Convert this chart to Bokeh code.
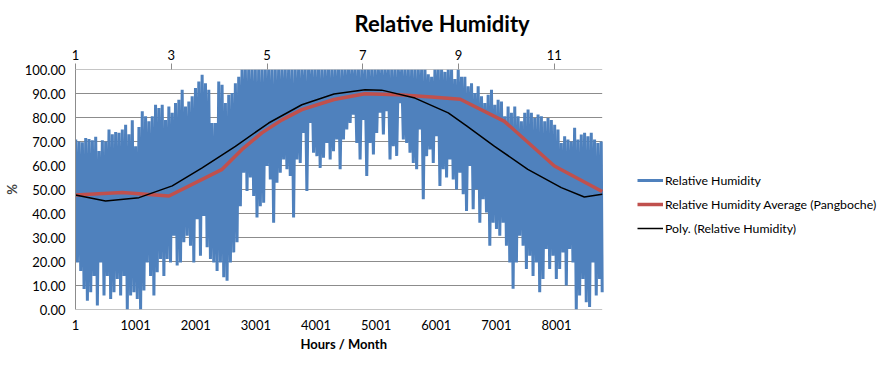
import numpy as np
from bokeh.plotting import figure
from bokeh.models import (Range1d, LinearAxis, FixedTicker, NumeralTickFormatter,
                          Legend, LegendItem, Title)
from bokeh.embed import file_html
from bokeh.resources import INLINE

# ---------------- data ----------------
# Hourly relative humidity, summarised as the upper and lower envelope of the
# hourly trace, read every ~55 hours from hour 5 to hour 8744.
rh_upper = [
    70.8, 70, 69.7, 71.5, 71, 70.5, 72, 66, 70.5, 70, 75, 73, 74, 73.6, 75, 77, 73, 78.8, 68, 76,
    82.6, 80.5, 78.4, 80.5, 85.3, 84, 85.3, 79, 84.6, 82, 86, 87.4, 91.6, 84.6, 86.7, 88.8, 92.3, 95, 97.8, 94.3,
    91.6, 77.7, 77.7, 95, 93.6, 86, 89.5, 90.2, 94.3, 97, 100,
    100, 100, 100, 100, 100, 100, 100, 100, 100, 100, 100, 100, 100, 100,
    100, 100, 100, 100, 100, 100, 100, 100, 100, 100, 100, 100, 100, 100,
    100, 100, 100, 100, 100, 100, 100, 100, 100, 100, 100, 100, 100, 100, 100, 100, 100, 100, 100, 100,
    100, 100, 100, 100, 100, 100, 100, 98, 97, 100, 100, 100, 99, 100, 100, 96, 100, 97, 97,
    93, 94.3, 90.2, 93, 88.8, 86, 89.5, 91.6, 85.3, 87.4, 86.7, 80.5, 84.6, 82, 84.6, 80.5, 78.4, 82, 83.3, 82,
    79.8, 81.2, 80.5, 78.4, 79.8, 79, 77, 75, 69.4, 72.2, 70.8, 70, 75.7, 70.8, 72.9, 73.6, 72.2, 73.6, 70.8, 69.4, 70,
]
rh_lower = [
    19.6, 16, 8.6, 3.7, 7.2, 14, 1.7, 19.6, 5.8, 14, 4.4, 7.2, 12.7, 5.8, 14, 0, 5.8, 7.2, 4.4, 0,
    7.9, 19.6, 14, 5.8, 15.5, 21, 14, 21, 19.6, 30.7, 18.3, 19.6, 28, 30.7, 26.6, 19.6, 37.6, 22.4, 39, 25.9,
    21, 19.6, 16, 19.6, 13.4, 12, 19.6, 23.8, 28,
    43, 57, 49.4, 55, 47.3, 38.3, 43, 44.5, 59.8, 54.2, 36.2, 52.8, 57, 62.5, 58.4, 55.6, 38.3, 62.5, 61.1, 73.6,
    49.4, 77.7, 65.3, 63.9, 59, 63.2, 69.4, 62.5, 66, 70.8,
    58.4, 70.8, 75, 77.7, 81.2, 69.4, 62.5, 79, 55.6, 69.4, 64.6, 73.6, 82, 72.9, 82.6, 62.5, 68, 64, 86, 70.8,
    69.4, 65.3, 61.1, 58.4, 75, 45.9, 63.9, 66.7, 61.1, 72.2, 51.5, 58.4, 55, 62.5, 54.2, 50, 57, 48, 41,
    59.8, 41.8, 50, 36.2, 45.9, 40.4, 26.6, 36.2, 33.5, 30.7, 36.2, 26.6, 19.6, 8.6, 19.6, 30.7, 26.6, 16.9, 22.4, 14,
    19.6, 7.2, 12.7, 25.2, 16.9, 22.4, 12.7, 16.9, 23.8, 10, 25.2, 19.6, 0, 5.8, 12.7, 3, 1, 19.6, 5.8, 12.7, 7.2,
]
rh_first_hour = 5
rh_last_hour = 8744

avg_hours = [1, 780, 1555, 2440, 2770, 3100, 3435, 3765, 4300, 4815, 5375, 5925, 6400, 7135, 7965, 8760]
avg_values = [47.7, 48.7, 47.3, 58.4, 66.7, 73.6, 79.0, 83.3, 87.5, 89.9, 89.5, 88.5, 87.6, 78.4, 59.8, 49.2]

poly_hours = [1, 500, 1057, 1610, 2107, 2660, 3213, 3765, 4300, 4815, 5093, 5646, 6200, 6505, 6970, 7523, 8080, 8463, 8760]
poly_values = [47.7, 45.2, 46.6, 51.5, 59.0, 68.0, 77.7, 85.3, 89.8, 91.6, 91.4, 88.1, 81.9, 76.5, 68.0, 58.4, 50.8, 46.9, 48.0]

hour_first, hour_last = 1, 8760
month_first, month_last = 1, 12
hour_ticks = [1, 1001, 2001, 3001, 4001, 5001, 6001, 7001, 8001]
month_ticks = [1, 3, 5, 7, 9, 11]
y_ticks = [0, 10, 20, 30, 40, 50, 60, 70, 80, 90, 100]

# ---------------- layout (pixels) ----------------
W, H = 882, 366
BORDER_L, BORDER_R, BORDER_T, BORDER_B = 73, 2, 69, 57
DATA_W = 528                         # width of the hour axis in px
FRAME_W = W - BORDER_L - BORDER_R    # the frame also holds the legend
scale = FRAME_W / DATA_W
x_end = hour_first + (hour_last - hour_first) * scale
m_end = month_first + (month_last - month_first) * scale

# ---------------- build the hourly trace as a dense zig-zag ----------------
n = min(len(rh_upper), len(rh_lower))
h = np.linspace(rh_first_hour, rh_last_hour, n)
half = (h[1] - h[0]) / 2.0
zx = np.empty(2 * n)
zy = np.empty(2 * n)
zx[0::2] = h
zx[1::2] = np.minimum(h + half, hour_last)
zy[0::2] = rh_upper[:n]
zy[1::2] = rh_lower[:n]

FONT = "Lato"
BLUE = "#4F81BD"
RED = "#C0504D"
GRID = "#8C8C8C"

p = figure(width=W, height=H, output_backend="svg", toolbar_location=None,
           x_range=Range1d(hour_first, x_end), y_range=Range1d(0, 100),
           min_border_left=BORDER_L, min_border_right=BORDER_R,
           min_border_top=BORDER_T, min_border_bottom=BORDER_B,
           x_axis_location=None, y_axis_location=None)
p.outline_line_color = None
p.background_fill_color = "white"
p.border_fill_color = "white"
p.xgrid.visible = False
p.ygrid.visible = False

# horizontal gridlines, only across the hour axis
p.segment(x0=[hour_first] * len(y_ticks), x1=[hour_last] * len(y_ticks),
          y0=y_ticks, y1=y_ticks, line_color=GRID, line_width=1)

r_rh = p.line(zx, zy, line_color=BLUE, line_width=3)
r_avg = p.line(avg_hours, avg_values, line_color=RED, line_width=3.5)
r_poly = p.line(poly_hours, poly_values, line_color="black", line_width=1.5)

# axes
left = LinearAxis(ticker=FixedTicker(ticks=y_ticks), formatter=NumeralTickFormatter(format="0.00"),
                  axis_label="%")
left.axis_line_color = GRID
left.major_tick_line_color = None
left.major_tick_out = 0
left.major_tick_in = 0
left.minor_tick_line_color = None
left.minor_tick_out = 0
left.major_label_standoff = 10
left.axis_label_standoff = 2
left.major_label_text_font = FONT
left.major_label_text_font_size = "13px"
left.major_label_text_color = "black"
left.axis_label_text_font = FONT
left.axis_label_text_font_size = "13px"
left.axis_label_text_font_style = "bold"
p.add_layout(left, "left")

bottom = LinearAxis(ticker=FixedTicker(ticks=hour_ticks), bounds=(hour_first, hour_last))
bottom.axis_line_color = None
bottom.major_tick_line_color = None
bottom.major_tick_out = 0
bottom.major_tick_in = 0
bottom.minor_tick_line_color = None
bottom.minor_tick_out = 0
bottom.major_label_standoff = 10
bottom.major_label_text_font = FONT
bottom.major_label_text_font_size = "13px"
bottom.major_label_text_color = "black"
p.add_layout(bottom, "below")

# x-axis title placed under the hour axis (centred on the hour span, not the legend area)
p.add_layout(Title(text="Hours / Month", align="left", offset=225, vertical_align="top",
                   text_font=FONT, text_font_size="13px", text_font_style="bold",
                   text_color="black", standoff=6), "below")

p.extra_x_ranges = {"month": Range1d(month_first, m_end)}
top = LinearAxis(x_range_name="month", ticker=FixedTicker(ticks=month_ticks),
                 bounds=(month_first, month_last))
top.axis_line_color = None
top.major_tick_line_color = GRID
top.major_tick_out = 6
top.major_tick_in = 0
top.minor_tick_line_color = None
top.minor_tick_out = 0
top.major_label_standoff = 4
top.major_label_text_font = FONT
top.major_label_text_font_size = "13px"
top.major_label_text_color = "black"
p.add_layout(top, "above")

# chart title (left aligned with an offset so it sits where the reference has it)
p.title = Title(text="Relative Humidity", align="left", offset=279, vertical_align="top",
                text_font=FONT, text_font_size="22px", text_font_style="bold",
                text_color="black", standoff=16)

legend = Legend(items=[LegendItem(label="Relative Humidity", renderers=[r_rh]),
                       LegendItem(label="Relative Humidity Average (Pangboche)", renderers=[r_avg]),
                       LegendItem(label="Poly. (Relative Humidity)", renderers=[r_poly])],
                location=(562, 71), orientation="vertical")
legend.border_line_color = None
legend.background_fill_alpha = 0
legend.padding = 0
legend.margin = 0
legend.spacing = 4
legend.glyph_width = 26
legend.glyph_height = 20
legend.label_height = 20
legend.label_standoff = 2
legend.label_text_font = FONT
legend.label_text_font_size = "12.3px"
legend.label_text_color = "black"
legend.label_text_baseline = "middle"
p.add_layout(legend, "center")

open("out.html", "w").write(file_html(p, INLINE))
